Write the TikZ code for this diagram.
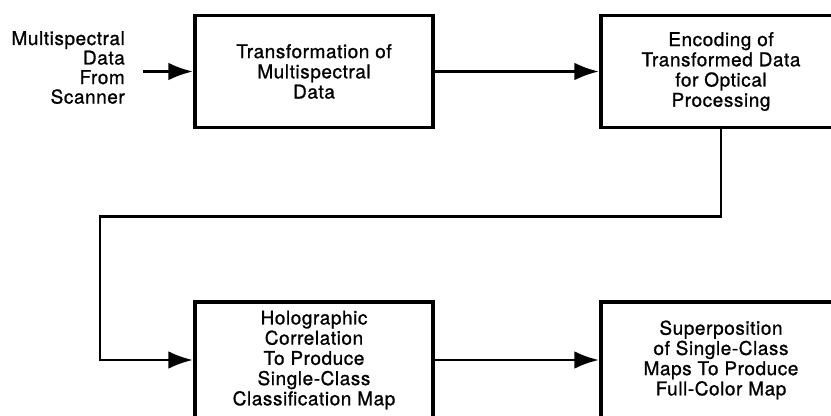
\documentclass[tikz,border=0pt]{standalone}
\usepackage{fontspec}
\setmainfont{TeX Gyre Heros}[LetterSpace=3,FakeBold=1.0]
\usetikzlibrary{arrows.meta}
\tikzstyle{arrow} = [line width=1.7pt,-{Latex[length=14pt,width=10pt]}]

\begin{document}
\begin{tikzpicture}
        [
            box/.style={rectangle,draw=black,line width=2.2pt,align=center,
                font=\fontsize{10.8}{11.5}\selectfont},
            top/.style={box,minimum width=4.76cm,minimum height=2.24cm},
            bottom/.style={box,minimum width=4.76cm,minimum height=2.32cm},
        ]
    \useasboundingbox (0,0) rectangle (16.62,8.3);
    \clip (0,0) rectangle (16.62,8.3);

    % upper row
    \node[align=right,anchor=east,font=\fontsize{10.8}{11.1}\selectfont]
        (scan) at (2.62,6.95) {Multispectral\\Data\\From\\Scanner};
    \coordinate (in) at (2.86,6.87);
    \node[top] (trans) at (6.28,6.87) {Transformation of\\Multispectral\\Data};
    \node[top,minimum width=4.8cm] (enc) at (14.42,6.87)
        {Encoding of\\Transformed Data\\for Optical\\Processing};

    % lower row
    \node[bottom] (holo) at (6.28,1.1)
        {Holographic\\Correlation\\To Produce\\Single-Class\\Classification Map};
    \node[bottom,minimum width=4.8cm] (super) at (14.42,1.1)
        {Superposition\\of Single-Class\\Maps To Produce\\Full-Color Map};

    \draw[arrow] (in) -- (trans.west);
    \draw[arrow] (trans.east) -- (enc.west |- trans.east);
    \draw[arrow] (enc.south) -- ++(0,-1.74) -| (2.0,1.1) -- (holo.west);
    \draw[arrow] (holo.east) -- (super.west);
    \end{tikzpicture}
\end{document}
